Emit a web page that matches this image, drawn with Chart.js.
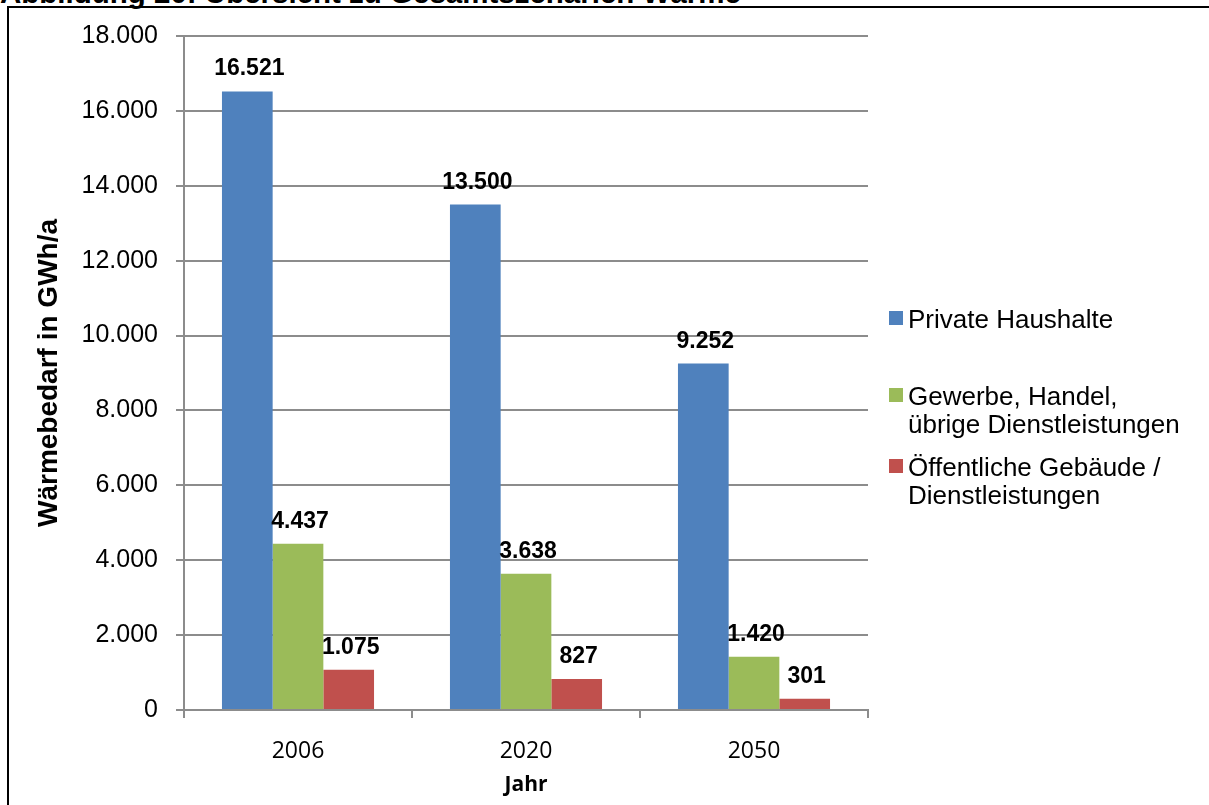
<!DOCTYPE html>
<html>
<head>
<meta charset="utf-8">
<title>Wärmebedarf Gesamtszenarien</title>
<script src="https://cdn.jsdelivr.net/npm/chart.js@4.4.0/dist/chart.umd.min.js"></script>
<style>
  html, body { margin: 0; padding: 0; background: #fff; overflow: hidden; }
  #wrap { position: relative; width: 1209px; height: 805px; overflow: hidden; }
  #frame {
    position: absolute; left: 7px; top: 6px; width: 1400px; height: 1000px;
    border-left: 2px solid #000; border-top: 2px solid #000;
  }
  #caption {
    position: absolute; left: 0; top: -21px; white-space: nowrap; color: #000;
    font: bold 29.5px "Liberation Sans", Arial, sans-serif; line-height: 28px;
  }
  canvas { position: absolute; left: 0; top: 0; }
</style>
</head>
<body>
<div id="wrap">
  <div id="caption">Abbildung 20: Übersicht zu Gesamtszenarien Wärme</div>
  <div id="frame"></div>
  <canvas id="chart" width="1209" height="805"></canvas>
</div>
<script>
/* -------- Data (GWh/a) -------- */
const YEARS = ["2006", "2020", "2050"];
const SERIES = [
  "Private Haushalte",
  "Gewerbe, Handel, übrige Dienstleistungen",
  "Öffentliche Gebäude / Dienstleistungen"
];
const LEGEND_LINES = [
  ["Private Haushalte"],
  ["Gewerbe, Handel,", "übrige Dienstleistungen"],
  ["Öffentliche Gebäude /", "Dienstleistungen"]
];
const PRIVAT      = [16521, 13500, 9252];
const GEWERBE     = [4437, 3638, 1420];
const OEFFENTLICH = [1075, 827, 301];
const Y_MAX  = 18000;
const Y_STEP = 2000;

/* -------- Styling -------- */
const COLORS = ["#4F81BD", "#9BBB59", "#C0504D"];
const GRID   = "#8C8C8C";
const ARIAL  = "'Liberation Sans', Arial, sans-serif";
const CALIBRI = "'Open Sans', 'Noto Sans', sans-serif";

// German thousands separator: 16521 -> "16.521"
const fmt = v => String(v).replace(/\B(?=(\d{3})+(?!\d))/g, ".");

/* Value labels above each bar */
const valueLabels = {
  id: "valueLabels",
  afterDatasetsDraw(chart) {
    const ctx = chart.ctx;
    ctx.save();
    ctx.font = "bold 23px " + ARIAL;
    ctx.fillStyle = "#000";
    ctx.textAlign = "center";
    ctx.textBaseline = "alphabetic";
    chart.data.datasets.forEach((ds, i) => {
      chart.getDatasetMeta(i).data.forEach((bar, j) => {
        ctx.fillText(fmt(ds.data[j]), bar.x + 2, bar.y - 16);
      });
    });
    ctx.restore();
  }
};

/* Legend on the right, with wrapped entries like the original */
const sideLegend = {
  id: "sideLegend",
  afterDraw(chart) {
    const ctx = chart.ctx;
    const x0 = chart.chartArea.right + 21;
    const baselines = [328, 405, 476];
    const lineH = 28;
    ctx.save();
    ctx.font = "26px " + ARIAL;
    ctx.textBaseline = "alphabetic";
    ctx.textAlign = "left";
    LEGEND_LINES.forEach((lines, i) => {
      const b = baselines[i];
      ctx.fillStyle = COLORS[i];
      ctx.fillRect(x0, b - 17, 14, 14);
      ctx.fillStyle = "#000";
      lines.forEach((t, k) => ctx.fillText(t, x0 + 19, b + k * lineH));
    });
    ctx.restore();
  }
};

const seriesData = [PRIVAT, GEWERBE, OEFFENTLICH];

new Chart(document.getElementById("chart").getContext("2d"), {
  type: "bar",
  data: {
    labels: YEARS,
    datasets: SERIES.map((name, i) => ({
      label: name,
      data: seriesData[i],
      backgroundColor: COLORS[i],
      borderWidth: 0,
      categoryPercentage: 0.667,
      barPercentage: 1.0
    }))
  },
  options: {
    responsive: false,
    animation: false,
    layout: { padding: { left: 0, right: 341, top: 36, bottom: 0 } },
    plugins: {
      legend: { display: false },
      tooltip: { enabled: false }
    },
    scales: {
      x: {
        grid: { drawOnChartArea: false, drawTicks: true, tickLength: 8, color: GRID, lineWidth: 2 },
        border: { color: GRID, width: 2 },
        ticks: { font: { family: CALIBRI, size: 23 }, color: "#000", padding: 20 },
        title: {
          display: true, text: "Jahr", color: "#000",
          font: { family: CALIBRI, size: 21, weight: "bold" },
          padding: { top: 0, bottom: 7 }
        },
        afterFit(scale) { scale.height = 95; }
      },
      y: {
        min: 0, max: Y_MAX,
        grid: { color: GRID, lineWidth: 2, tickLength: 8 },
        border: { color: GRID, width: 2 },
        ticks: {
          stepSize: Y_STEP, callback: v => fmt(v), color: "#000", padding: 18,
          font: { family: ARIAL, size: 25 }
        },
        title: {
          display: true, text: "Wärmebedarf in GWh/a", color: "#000",
          font: { family: ARIAL, size: 28, weight: "bold" },
          padding: { top: 32, bottom: 0 }
        },
        afterFit(scale) { scale.width = 184; }
      }
    }
  },
  plugins: [valueLabels, sideLegend]
});
</script>
</body>
</html>
